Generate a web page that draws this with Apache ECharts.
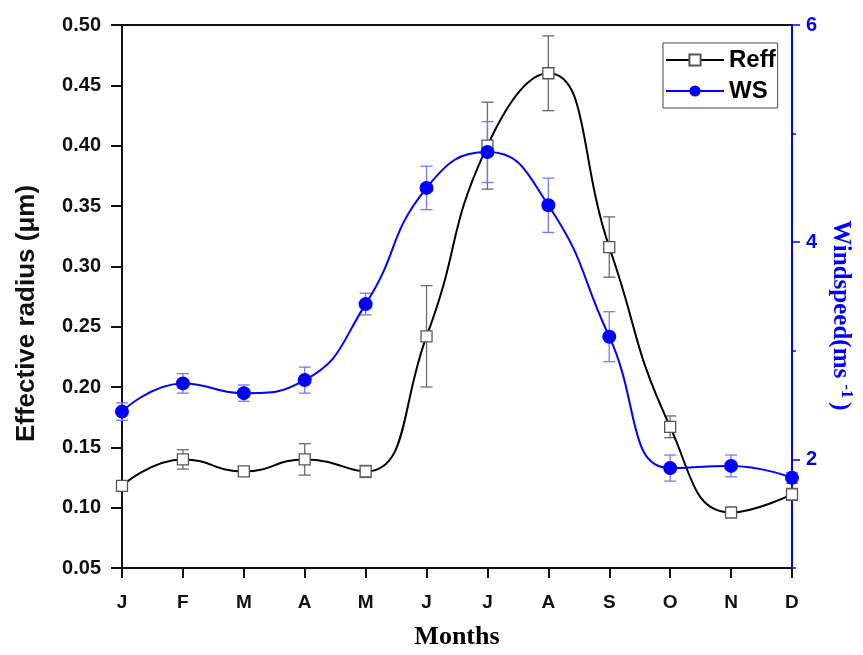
<!DOCTYPE html>
<html>
<head>
<meta charset="utf-8">
<script src="https://cdn.jsdelivr.net/npm/echarts@6/dist/echarts.min.js"></script>
<style>
  html, body { margin: 0; padding: 0; background: #fff; }
  #chart { width: 863px; height: 655px; }
</style>
</head>
<body>
<div id="chart"></div>
<script>
// months on the x axis
var months = ['J', 'F', 'M', 'A', 'M', 'J', 'J', 'A', 'S', 'O', 'N', 'D'];
// effective radius (um) and its error
var reff = [0.118, 0.140, 0.130, 0.140, 0.130, 0.242, 0.400, 0.460, 0.316, 0.167, 0.096, 0.111];
var reffErr = [0.004, 0.008, 0.004, 0.013, 0.005, 0.042, 0.036, 0.031, 0.025, 0.009, 0.003, 0.005];
// wind speed (m/s) and its error
var ws = [2.44, 2.70, 2.61, 2.73, 3.43, 4.50, 4.83, 4.34, 3.13, 1.92, 1.94, 1.83];
var wsErr = [0.08, 0.09, 0.075, 0.12, 0.10, 0.20, 0.28, 0.25, 0.23, 0.12, 0.10, 0.05];
// labelled ticks on the wind speed axis
var wsMajor = [2, 4, 6];

var sans = 'Liberation Sans, Arial, sans-serif';
var serif = 'Liberation Serif, Times New Roman, serif';
var blue = '#0000ff';

function errData(vals, errs) {
  return vals.map(function (v, i) { return [i, v - errs[i], v + errs[i]]; });
}

function errRender(color) {
  return function (params, api) {
    var x = api.value(0);
    var lo = api.coord([x, api.value(1)]);
    var hi = api.coord([x, api.value(2)]);
    var w = 6;
    var st = { stroke: color, lineWidth: 1.3 };
    return {
      type: 'group',
      children: [
        { type: 'line', shape: { x1: lo[0], y1: lo[1], x2: hi[0], y2: hi[1] }, style: st },
        { type: 'line', shape: { x1: lo[0] - w, y1: lo[1], x2: lo[0] + w, y2: lo[1] }, style: st },
        { type: 'line', shape: { x1: hi[0] - w, y1: hi[1], x2: hi[0] + w, y2: hi[1] }, style: st }
      ]
    };
  };
}

var chart = echarts.init(document.getElementById('chart'), null, { renderer: 'canvas' });
chart.setOption({
  animation: false,
  backgroundColor: '#fff',
  grid: { left: 122, right: 71, top: 25, bottom: 84 },
  legend: {
    data: ['Reff', 'WS'],
    orient: 'vertical',
    left: 663,
    top: 43,
    borderColor: '#444',
    borderWidth: 1,
    padding: [5, 2, 5, 2],
    itemWidth: 58,
    itemHeight: 14,
    itemGap: 7,
    textStyle: { fontFamily: sans, fontWeight: 'bold', fontSize: 24, color: '#000' }
  },
  xAxis: [{
    type: 'category',
    data: months,
    boundaryGap: false,
    name: 'Months',
    nameLocation: 'middle',
    nameGap: 56,
    nameTextStyle: { fontFamily: serif, fontWeight: 'bold', fontSize: 26, color: '#000' },
    axisLine: { lineStyle: { color: '#111', width: 2 } },
    axisTick: { alignWithLabel: true, length: 10, lineStyle: { color: '#111', width: 2 } },
    axisLabel: { margin: 25, fontFamily: sans, fontWeight: 'bold', fontSize: 19, color: '#111' },
    splitLine: { show: false }
  }, {
    type: 'category',
    data: months,
    boundaryGap: false,
    position: 'top',
    axisLine: { lineStyle: { color: '#111', width: 2 } },
    axisTick: { show: false },
    axisLabel: { show: false },
    splitLine: { show: false }
  }],
  yAxis: [{
    type: 'value',
    min: 0.05,
    max: 0.5,
    interval: 0.05,
    name: 'Effective radius (μm)',
    nameLocation: 'middle',
    nameRotate: 90,
    nameGap: 82,
    nameTextStyle: { fontFamily: sans, fontWeight: 'bold', fontSize: 26, color: '#111', padding: [0, 34, 0, 0] },
    axisLine: { show: true, lineStyle: { color: '#111', width: 2 } },
    axisTick: { show: true, length: 11, lineStyle: { color: '#111', width: 2 } },
    axisLabel: {
      margin: 21, fontFamily: sans, fontWeight: 'bold', fontSize: 20, color: '#111',
      formatter: function (v) { return v.toFixed(2); }
    },
    splitLine: { show: false }
  }, {
    type: 'value',
    min: 1,
    max: 6,
    interval: 1,
    position: 'right',
    name: 'Windspeed(ms{sup|-1})',
    nameLocation: 'middle',
    nameRotate: -90,
    nameGap: 31,
    nameTextStyle: {
      fontFamily: serif, fontWeight: 'bold', fontSize: 25, color: blue, padding: [0, 0, 0, 38],
      rich: {
        sup: { fontFamily: serif, fontWeight: 'bold', fontSize: 17, color: blue, verticalAlign: 'top', padding: [0, 4, 12, 6] }
      }
    },
    axisLine: { show: true, lineStyle: { color: blue, width: 2 } },
    axisTick: { show: true, length: 4, lineStyle: { color: blue, width: 1.5 } },
    axisLabel: {
      margin: 14, fontFamily: sans, fontWeight: 'bold', fontSize: 20, color: blue,
      formatter: function (v) { return wsMajor.indexOf(v) >= 0 ? String(v) : ''; }
    },
    splitLine: { show: false }
  }, {
    // longer ticks at the labelled wind speed values
    type: 'value',
    min: 1,
    max: 6,
    interval: 1,
    position: 'right',
    axisLine: { show: false },
    axisTick: { show: true, length: 8, customValues: wsMajor, lineStyle: { color: blue, width: 1.5 } },
    axisLabel: { show: false },
    splitLine: { show: false }
  }],
  series: [{
    name: 'Reff err',
    type: 'custom',
    xAxisIndex: 0,
    yAxisIndex: 0,
    z: 1,
    renderItem: errRender('#6a6a6a'),
    encode: { x: 0, y: [1, 2] },
    data: errData(reff, reffErr)
  }, {
    name: 'WS err',
    type: 'custom',
    xAxisIndex: 0,
    yAxisIndex: 1,
    z: 1,
    renderItem: errRender('#7777ff'),
    encode: { x: 0, y: [1, 2] },
    data: errData(ws, wsErr)
  }, {
    name: 'Reff',
    type: 'line',
    yAxisIndex: 0,
    z: 3,
    smooth: 0.5,
    symbol: 'rect',
    symbolSize: 11,
    lineStyle: { color: '#000', width: 2 },
    itemStyle: { color: '#fff', borderColor: '#555', borderWidth: 1.3 },
    data: reff
  }, {
    name: 'WS',
    type: 'line',
    yAxisIndex: 1,
    z: 4,
    smooth: 0.5,
    symbol: 'circle',
    symbolSize: 14,
    lineStyle: { color: blue, width: 2 },
    itemStyle: { color: blue },
    data: ws
  }]
});
</script>
</body>
</html>
